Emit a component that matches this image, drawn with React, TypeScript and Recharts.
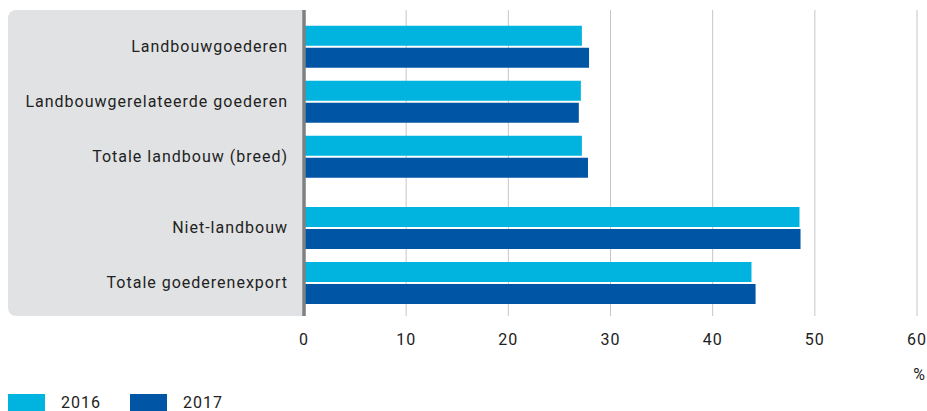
import { BarChart, Bar, XAxis, YAxis, CartesianGrid } from 'recharts'

// first block: agriculture groups, second block: the rest (drawn with a gap in between)
const categoriesTop = ['Landbouwgoederen', 'Landbouwgerelateerde goederen', 'Totale landbouw (breed)']
const categoriesBottom = ['Niet-landbouw', 'Totale goederenexport']
const values2016 = [27.2, 27.1, 27.2, 48.5, 43.8]
const values2017 = [27.9, 26.9, 27.8, 48.6, 44.2]
const seriesNames = ['2016', '2017']
const xTicks = [0, 10, 20, 30, 40, 50, 60]
const unitLabel = '%'

const colors = ['#00b4df', '#0055a5']
const font = 'Roboto, "Noto Sans", sans-serif'
const textColor = '#222'

const allCategories = [...categoriesTop, ...categoriesBottom]
const rows = allCategories.map((category, i) => ({
  category,
  y2016: values2016[i],
  y2017: values2017[i],
}))
const dataTop = rows.slice(0, categoriesTop.length)
const dataBottom = rows.slice(categoriesTop.length)

const tickStyle = { fontSize: 16, fill: textColor, fontFamily: font, letterSpacing: 1 }

function Series() {
  return [
    <Bar key="a" dataKey="y2016" name={seriesNames[0]} fill={colors[0]} barSize={20} isAnimationActive={false} />,
    <Bar key="b" dataKey="y2017" name={seriesNames[1]} fill={colors[1]} barSize={20} isAnimationActive={false} />,
  ]
}

export default function App() {
  return (
    <div style={{ position: 'relative', width: 927, height: 411, fontFamily: font }}>
      <style>{'body{margin:0;overflow:hidden}'}</style>
      <div
        style={{
          position: 'absolute', left: 8, top: 10, width: 296, height: 306,
          background: '#e1e2e4', borderRadius: '8px 0 0 8px',
        }}
      />
      <div style={{ position: 'absolute', left: 0, top: 0 }}>
        <BarChart width={927} height={191} data={dataTop} layout="vertical" barGap={2}
          margin={{ top: 10, right: 10, bottom: 0, left: 0 }}>
          <CartesianGrid horizontal={false} stroke="#c6c6c6" />
          <XAxis type="number" domain={[0, 60]} ticks={xTicks} hide />
          <YAxis type="category" dataKey="category" width={304} tickLine={false}
            axisLine={{ stroke: '#7e8083', strokeWidth: 3.5 }} tickMargin={10}
            padding={{ top: 8.8, bottom: 7.2 }} tick={tickStyle} />
          {Series()}
        </BarChart>
      </div>
      <div style={{ position: 'absolute', left: 0, top: 191 }}>
        <BarChart width={927} height={205} data={dataBottom} layout="vertical" barGap={2}
          margin={{ top: 0, right: 10, bottom: 10, left: 0 }}>
          <CartesianGrid horizontal={false} stroke="#c6c6c6" />
          <XAxis type="number" domain={[0, 60]} ticks={xTicks} height={70}
            axisLine={false} tickLine={false} tickMargin={12} tick={tickStyle}
            label={({ viewBox }: any) => (
              <text x={viewBox.x + viewBox.width + 2} y={viewBox.y + 64} textAnchor="middle"
                fontSize={16} fill={textColor} fontFamily={font}>{unitLabel}</text>
            )} />
          <YAxis type="category" dataKey="category" width={304} tickLine={false}
            axisLine={{ stroke: '#7e8083', strokeWidth: 3.5 }} tickMargin={10}
            padding={{ top: 9, bottom: 6 }} tick={tickStyle} />
          {Series()}
        </BarChart>
      </div>
      <div style={{ position: 'absolute', left: 8, top: 394, height: 17, display: 'flex', alignItems: 'flex-start', fontSize: 16, color: textColor, letterSpacing: 1 }}>
        {seriesNames.map((name, i) => (
          <div key={name} style={{ display: 'flex', alignItems: 'flex-start', marginRight: 29 }}>
            <div style={{ width: 37, height: 17, background: colors[i], marginRight: 16 }} />
            <span style={{ lineHeight: '16px', marginTop: 1 }}>{name}</span>
          </div>
        ))}
      </div>
    </div>
  )
}
